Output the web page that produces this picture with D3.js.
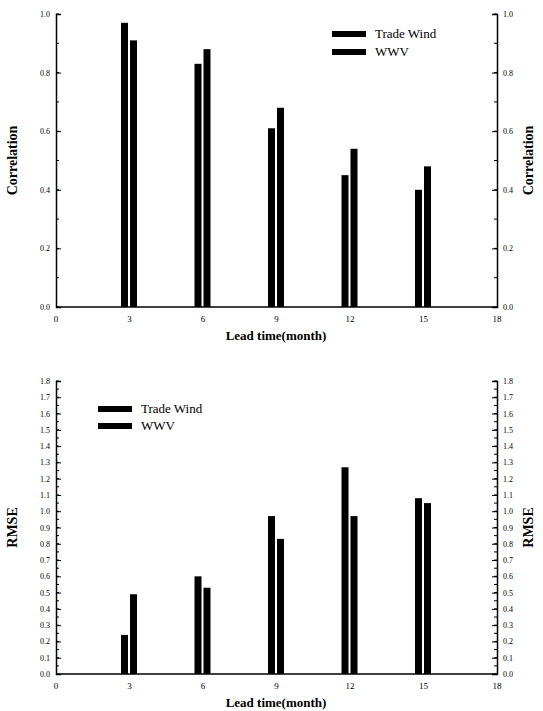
<!DOCTYPE html>
<html>
<head>
<meta charset="utf-8">
<script src="https://d3js.org/d3.v7.min.js"></script>
<style>
  body { margin: 0; background: #fff; }
  svg text { font-family: "Liberation Serif", "Times New Roman", "DejaVu Serif", serif; fill: #000; }
</style>
</head>
<body>
<script>

  // lead times (months) and the two predictors
  var leadTimes = [3, 6, 9, 12, 15];
  var seriesNames = ["Trade Wind", "WWV"];
  var xTicks = [0, 3, 6, 9, 12, 15, 18];

  var corrTrade = [0.97, 0.83, 0.61, 0.45, 0.40];
  var corrWWV   = [0.91, 0.88, 0.68, 0.54, 0.48];
  var corrTicks = [0.0, 0.2, 0.4, 0.6, 0.8, 1.0];

  var rmseTrade = [0.24, 0.60, 0.97, 1.27, 1.08];
  var rmseWWV   = [0.49, 0.53, 0.83, 0.97, 1.05];
  var rmseTicks = d3.range(0, 19).map(function(d) { return d / 10; });

  var serif = "Liberation Serif, Times New Roman, serif";

  var svg = d3.select("body").append("svg")
    .attr("width", 543)
    .attr("height", 711)
    .attr("font-family", serif);

  var x = d3.scaleLinear().domain([0, 18]).range([56, 497]);

  var drawPanel = function(cfg) {
    var y = d3.scaleLinear().domain([0, cfg.max]).range([cfg.bottom, cfg.top]);
    var g = svg.append("g");

    // bars: trade wind left of the tick, WWV right of it
    var sets = [cfg.trade, cfg.wwv];
    sets.forEach(function(vals, s) {
      g.selectAll(null)
        .data(vals)
        .enter().append("rect")
        .attr("x", function(d, i) { return x(leadTimes[i]) + (s === 0 ? -8.5 : 0.5); })
        .attr("y", function(d) { return y(d); })
        .attr("width", 7)
        .attr("height", function(d) { return y(0) - y(d); })
        .attr("fill", "#000");
    });

    // axes with inward ticks
    var left = d3.axisRight(y).tickValues(cfg.ticks).tickSize(5).tickFormat("");
    var right = d3.axisLeft(y).tickValues(cfg.ticks).tickSize(5).tickFormat("");
    var minor = d3.range(0, cfg.max + 1e-9, cfg.minor);

    g.append("g").attr("transform", "translate(" + x(0) + ",0)").call(left)
      .call(function(a) { a.select(".domain").attr("stroke-width", 1.5); });
    g.append("g").attr("transform", "translate(" + x(18) + ",0)").call(right)
      .call(function(a) { a.select(".domain").attr("stroke-width", 1.5); });

    g.selectAll(null).data(minor).enter().append("line")
      .attr("x1", x(0)).attr("x2", x(0) + 3)
      .attr("y1", function(d) { return y(d); }).attr("y2", function(d) { return y(d); })
      .attr("stroke", "#000");
    g.selectAll(null).data(minor).enter().append("line")
      .attr("x1", x(18)).attr("x2", x(18) - 3)
      .attr("y1", function(d) { return y(d); }).attr("y2", function(d) { return y(d); })
      .attr("stroke", "#000");

    // tick labels both sides
    g.selectAll(null).data(cfg.ticks).enter().append("text")
      .attr("x", x(0) - 6).attr("y", function(d) { return y(d) + 3; })
      .attr("text-anchor", "end").attr("font-size", 8)
      .attr("font-family", serif)
      .text(function(d) { return d.toFixed(1); });
    g.selectAll(null).data(cfg.ticks).enter().append("text")
      .attr("x", x(18) + 6).attr("y", function(d) { return y(d) + 3; })
      .attr("text-anchor", "start").attr("font-size", 8)
      .attr("font-family", serif)
      .text(function(d) { return d.toFixed(1); });

    // bottom axis
    g.append("line")
      .attr("x1", x(0)).attr("x2", x(18))
      .attr("y1", y(0)).attr("y2", y(0))
      .attr("stroke", "#000").attr("stroke-width", 1.5);
    g.selectAll(null).data(xTicks).enter().append("text")
      .attr("x", function(d) { return x(d); })
      .attr("y", y(0) + 15)
      .attr("text-anchor", "middle").attr("font-size", 9)
      .attr("font-family", serif)
      .text(function(d) { return d; });

    g.append("text")
      .attr("x", 276).attr("y", y(0) + 33)
      .attr("text-anchor", "middle").attr("font-size", 13).attr("font-weight", "bold")
      .attr("font-family", serif)
      .text("Lead time(month)");

    var midY = (cfg.top + cfg.bottom) / 2;
    [17, 533].forEach(function(px) {
      g.append("text")
        .attr("transform", "translate(" + px + "," + midY + ") rotate(-90)")
        .attr("text-anchor", "middle").attr("font-size", 14).attr("font-weight", "bold")
        .attr("font-family", serif)
        .text(cfg.label);
    });

    // legend
    seriesNames.forEach(function(name, i) {
      var ly = cfg.legendY + i * cfg.legendGap;
      g.append("rect")
        .attr("x", cfg.legendX).attr("y", ly - 3)
        .attr("width", 34).attr("height", 6)
        .attr("fill", "#000");
      g.append("text")
        .attr("x", cfg.legendX + 43).attr("y", ly + 4)
        .attr("font-size", 13)
        .attr("font-family", serif)
        .text(name);
    });
  };

  drawPanel({
    trade: corrTrade, wwv: corrWWV, ticks: corrTicks,
    max: 1.0, minor: 0.1, top: 14, bottom: 307,
    label: "Correlation", legendX: 332, legendY: 34, legendGap: 18
  });

  drawPanel({
    trade: rmseTrade, wwv: rmseWWV, ticks: rmseTicks,
    max: 1.8, minor: 0.05, top: 381, bottom: 674,
    label: "RMSE", legendX: 98, legendY: 409, legendGap: 17
  });

</script>
</body>
</html>
